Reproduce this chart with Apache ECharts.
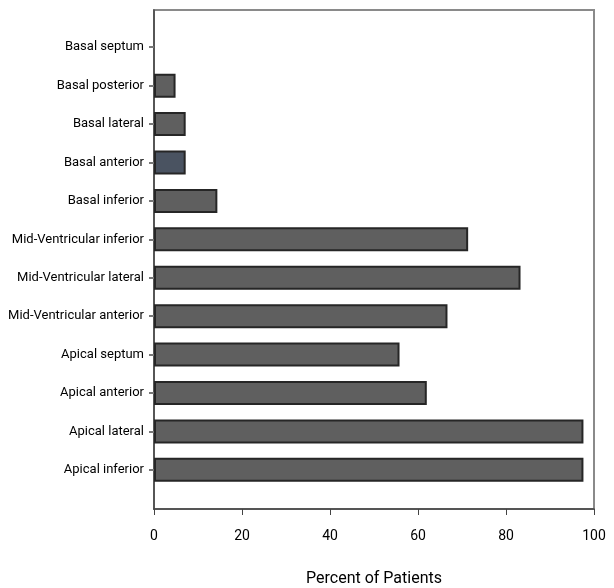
<!DOCTYPE html>
<html>
<head>
<meta charset="utf-8">
<script src="https://cdn.jsdelivr.net/npm/echarts@6/dist/echarts.min.js"></script>
<style>
  html, body { margin: 0; padding: 0; background: #fff; }
  #chart { width: 614px; height: 588px; }
</style>
</head>
<body>
<div id="chart"></div>
<script>
// segments, top to bottom
const segments = [
  "Basal septum",
  "Basal posterior",
  "Basal lateral",
  "Basal anterior",
  "Basal inferior",
  "Mid-Ventricular inferior",
  "Mid-Ventricular lateral",
  "Mid-Ventricular anterior",
  "Apical septum",
  "Apical anterior",
  "Apical lateral",
  "Apical inferior",
];
// percent of patients
const percent = [0, 4.9, 7.2, 7.2, 14.4, 71.4, 83.3, 66.7, 55.8, 62, 97.6, 97.6];
const xTicks = [0, 20, 40, 60, 80, 100];

const font = "Roboto, 'Liberation Sans', sans-serif";

let myChart = echarts.init(document.getElementById("chart"));
myChart.setOption({
  animation: false,
  grid: [
    // outer frame
    { left: 154, right: 20, top: 10, bottom: 79, show: true, borderColor: "#8a8a8a", borderWidth: 2, outerBoundsMode: "none" },
    // bars area
    { left: 154, right: 20, top: 28, bottom: 99, outerBoundsMode: "none" },
  ],
  xAxis: [
    {
      gridIndex: 0,
      type: "value",
      min: xTicks[0],
      max: xTicks[xTicks.length - 1],
      interval: 20,
      axisLine: { show: true, lineStyle: { color: "#444", width: 1.5 } },
      axisTick: { show: true, inside: false, length: 6, lineStyle: { color: "#444" } },
      axisLabel: { margin: 20, color: "#000", fontSize: 14, fontFamily: font },
      splitLine: { show: false },
      name: "Percent of Patients",
      nameLocation: "middle",
      nameGap: 62,
      nameTextStyle: { color: "#000", fontSize: 16, fontFamily: font },
    },
    {
      gridIndex: 1,
      type: "value",
      min: 0,
      max: 100,
      show: false,
    },
  ],
  yAxis: [
    {
      gridIndex: 0,
      type: "value",
      axisLine: { show: true, lineStyle: { color: "#444", width: 1.5 } },
      axisTick: { show: false },
      axisLabel: { show: false },
      splitLine: { show: false },
    },
    {
      gridIndex: 1,
      type: "category",
      inverse: true,
      data: segments,
      axisLine: { show: false },
      axisTick: { show: true, alignWithLabel: true, length: 5, lineStyle: { color: "#777", width: 2 } },
      axisLabel: { margin: 10, color: "#000", fontSize: 13, fontFamily: font, interval: 0 },
      splitLine: { show: false },
    },
  ],
  series: [
    {
      type: "bar",
      xAxisIndex: 1,
      yAxisIndex: 1,
      barWidth: 24,
      data: percent.map((v, i) => ({
        value: v,
        itemStyle: {
          color: segments[i] === "Basal anterior" ? "#4a5361" : "#5f5f5f",
          borderColor: "#262626",
          borderWidth: v > 0 ? 2 : 0,
        },
      })),
    },
  ],
});
</script>
</body>
</html>
